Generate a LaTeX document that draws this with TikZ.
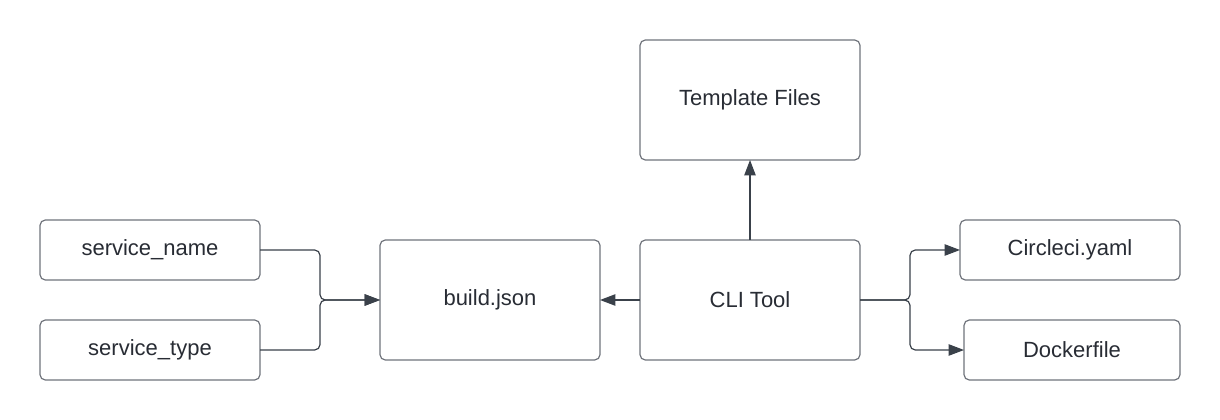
\documentclass[tikz,border=0pt]{standalone}
\usepackage{fontspec}
\setmainfont{Liberation Sans}
\usetikzlibrary{arrows.meta}
\definecolor{boxline}{RGB}{112,116,124}
\definecolor{wire}{RGB}{58,65,74}
\definecolor{ink}{RGB}{40,44,52}
\tikzset{
  box/.style={draw=boxline, line width=0.9pt, rounded corners=4pt, fill=white,
    inner sep=0pt, outer sep=0pt, text=ink, font=\fontsize{16.5}{19}\selectfont},
  wirearrow/.style={draw=wire, line width=0.9pt, rounded corners=4pt,
    -{Triangle[length=11.5pt,width=8.5pt]}}
}

\begin{document}
\begin{tikzpicture}[x=0.75pt,y=-0.75pt]
		%%%%% START %%%%%
		\useasboundingbox[fill=white] (0,0) rectangle (1220,420);
		
		\node[box, minimum width=165pt, minimum height=45pt] (sname) at (150,250) {service\_name};
		\node[box, minimum width=165pt, minimum height=45pt] (stype) at (150,350) {service\_type};
		
		\node[box, minimum width=165pt, minimum height=90pt] (build) at (490,300) {build.json};
		\node[box, minimum width=165pt, minimum height=90pt] (cli) at (750,300) {CLI Tool};
		\node[box, minimum width=165pt, minimum height=90pt] (tmpl) at (750,100) {Template Files};
		
		\node[box, minimum width=165pt, minimum height=45pt] (circ) at (1070,250) {Circleci.yaml};
		\node[box, minimum width=162pt, minimum height=45pt] (dock) at (1072,350) {Dockerfile};
		
		\coordinate (jleft) at (320,300);
		\coordinate (jright) at (910,300);
		
		\draw[wirearrow] (sname.east) -| (jleft) -- (build.west);
		\draw[wirearrow] (stype.east) -| (jleft) -- (build.west);
		
		\draw[wirearrow] (cli.west) -- (build.east);
		\draw[wirearrow] (cli.north) -- (tmpl.south);
		
		\draw[wirearrow] (cli.east) -- (jright) |- (circ.west);
		\draw[wirearrow] (cli.east) -- (jright) |- (dock.west);
		%%%%% END %%%%%
	\end{tikzpicture}
\end{document}
